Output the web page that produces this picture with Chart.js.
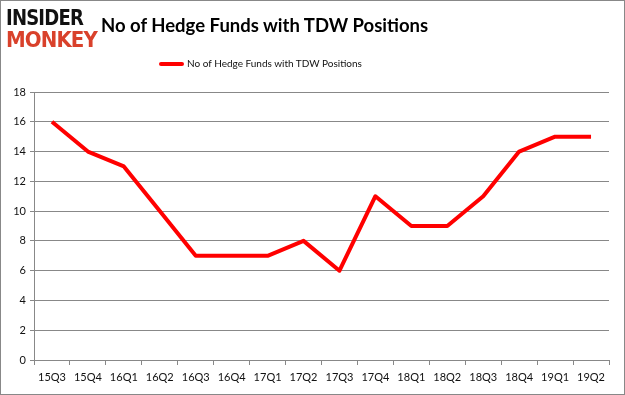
<!DOCTYPE html>
<html>
<head>
<meta charset="utf-8">
<script src="https://cdn.jsdelivr.net/npm/chart.js@4/dist/chart.umd.min.js"></script>
<style>
  body { margin: 0; background: #fff; }
  #frame { position: relative; width: 625px; height: 395px; box-sizing: border-box; border: 1px solid #888; overflow: hidden; }
  #chartBox { position: absolute; left: 0; top: 0; width: 623px; height: 393px; }
  #logo { position: absolute; left: 5px; top: 6px; font-family: "DejaVu Sans", sans-serif; font-weight: bold; line-height: 21px; letter-spacing: -1px; }
  #logo div { transform-origin: left center; white-space: nowrap; }
  #logo .a { color: #111; font-size: 22px; transform: scaleX(0.82); }
  #logo .b { color: #d9412b; font-size: 22px; transform: scaleX(0.9); margin-top: 1px; }
  #title { position: absolute; left: 100px; top: 13px; font-family: Lato, sans-serif; font-weight: bold; font-size: 18.5px; color: #000; white-space: nowrap; }
  #legend { position: absolute; left: 158px; top: 56px; font-family: Lato, sans-serif; font-size: 10px; color: #111; white-space: nowrap; }
  #legend span.sw { display: inline-block; width: 25px; height: 4px; background: #ff0000; vertical-align: middle; margin-right: 3px; border-radius: 2px; }
</style>
</head>
<body>
<div id="frame">
  <div id="chartBox"><canvas id="tdwChart"></canvas></div>
  <div id="logo"><div class="a">INSIDER</div><div class="b">MONKEY</div></div>
  <div id="title">No of Hedge Funds with TDW Positions</div>
  <div id="legend"><span class="sw"></span>No of Hedge Funds with TDW Positions</div>
</div>
<script>
const quarters = ['15Q3', '15Q4', '16Q1', '16Q2', '16Q3', '16Q4', '17Q1', '17Q2',
  '17Q3', '17Q4', '18Q1', '18Q2', '18Q3', '18Q4', '19Q1', '19Q2'];
const fundCounts = [16, 14, 13, 10, 7, 7, 7, 8, 6, 11, 9, 9, 11, 14, 15, 15];
const seriesName = 'No of Hedge Funds with TDW Positions';

const ctx = document.getElementById('tdwChart').getContext('2d');
new Chart(ctx, {
  type: 'line',
  data: {
    labels: quarters,
    datasets: [{
      label: seriesName,
      data: fundCounts,
      borderColor: '#ff0000',
      borderWidth: 4,
      fill: false,
      tension: 0,
      pointRadius: 0,
      borderJoinStyle: 'round'
    }]
  },
  options: {
    responsive: true,
    maintainAspectRatio: false,
    animation: false,
    layout: { padding: { top: 91, right: 15, left: 0, bottom: 0 } },
    plugins: {
      legend: { display: false },
      tooltip: { enabled: false }
    },
    scales: {
      x: {
        offset: true,
        grid: { offset: true, drawOnChartArea: false, color: '#888', tickLength: 5 },
        border: { color: '#888' },
        ticks: { color: '#111', font: { family: 'Lato', size: 11 }, padding: 6, maxRotation: 0 },
        afterFit: (scale) => { scale.height = 34; }
      },
      y: {
        min: 0,
        max: 18,
        ticks: { stepSize: 2, color: '#111', font: { family: 'Lato', size: 11 }, padding: 4 },
        grid: { color: '#888', tickLength: 4 },
        border: { color: '#888' },
        afterFit: (scale) => { scale.width = 33; }
      }
    }
  }
});
</script>
</body>
</html>
